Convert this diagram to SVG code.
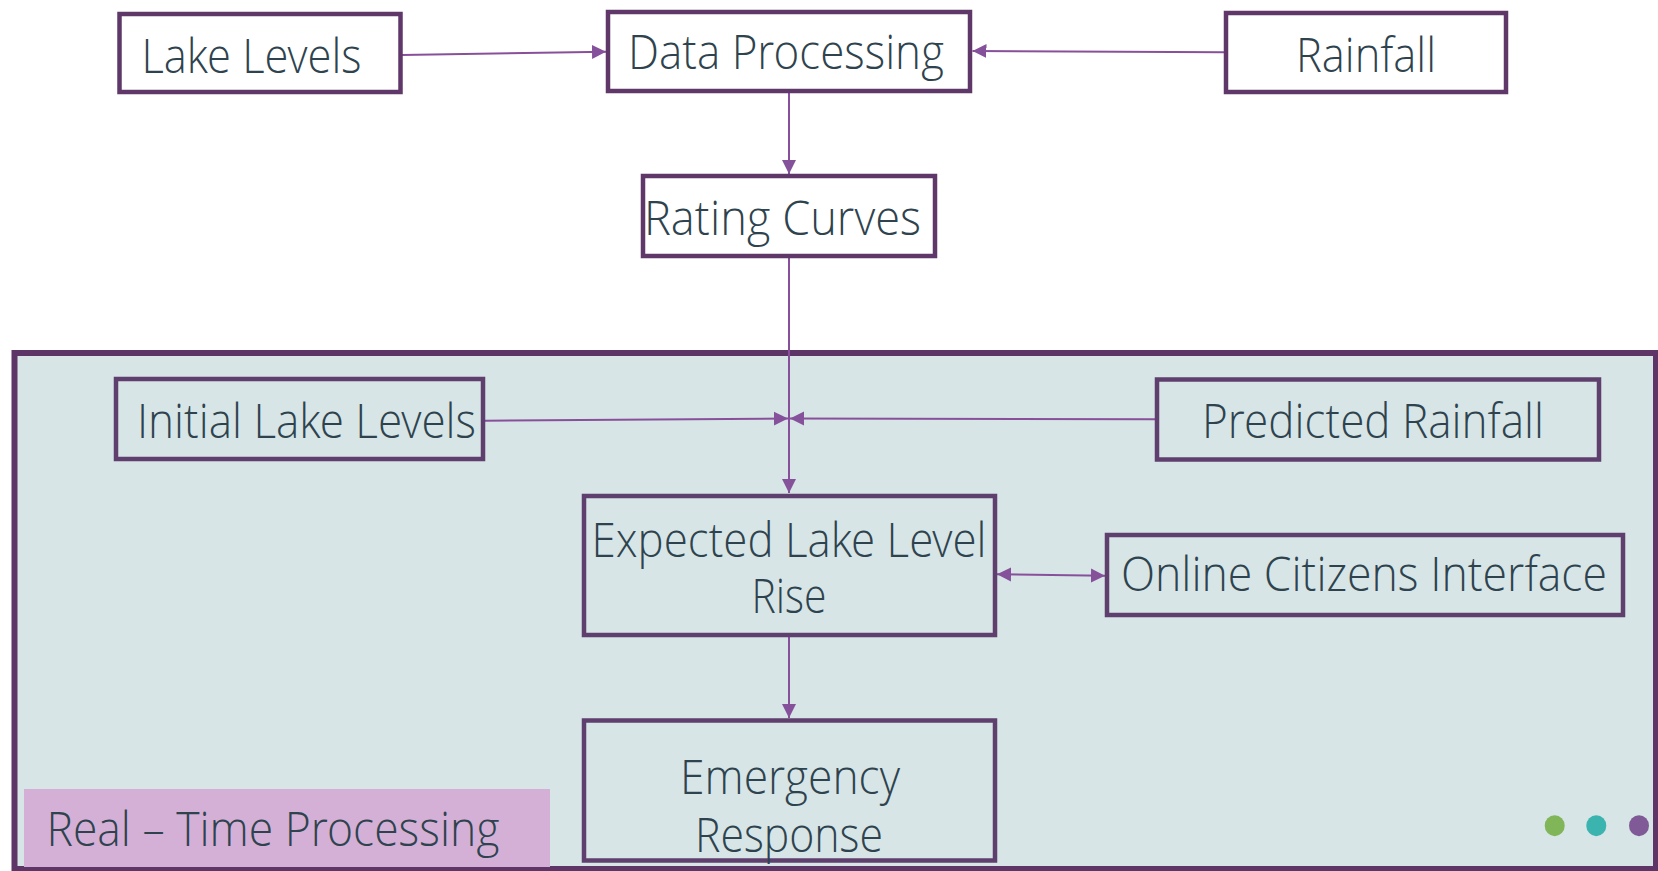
<svg xmlns="http://www.w3.org/2000/svg" width="1658" height="871" viewBox="0 0 1658 871">
  <defs>
    <marker id="arr" markerUnits="userSpaceOnUse" markerWidth="15" markerHeight="15" viewBox="0 0 15 15" refX="14" refY="7.5" orient="auto-start-reverse">
      <path d="M0,0.5 L14,7.5 L0,14.5 z" fill="#85519a"/>
    </marker>
    <style>
      .box { fill: #ffffff; stroke: #5f3869; stroke-width: 4.5; }
      .ibox { fill: none; stroke: #5f3f6e; stroke-width: 4.5; }
      .lbl { font-family: "Open Sans Light", "Open Sans", "Liberation Sans", sans-serif; font-weight: 300; font-size: 48px; fill: #2e434e; }
      .con { stroke: #88509a; stroke-width: 2; fill: none; }
    </style>
  </defs>
  <rect x="0" y="0" width="1658" height="871" fill="#ffffff"/>

  <g id="realtime-container">
    <rect x="14.5" y="353" width="1641.5" height="516" fill="#d7e5e7" stroke="#5d3567" stroke-width="6"/>
  </g>

  <g id="connectors">
    <line class="con" x1="402" y1="55" x2="606" y2="51.7" marker-end="url(#arr)"/>
    <line class="con" x1="1224" y1="52.3" x2="972.5" y2="51" marker-end="url(#arr)"/>
    <line class="con" x1="789" y1="93" x2="789" y2="174" marker-end="url(#arr)"/>
    <line class="con" x1="789" y1="258" x2="789" y2="493" marker-end="url(#arr)"/>
    <line class="con" x1="485" y1="420.7" x2="788" y2="418.5" marker-end="url(#arr)"/>
    <line class="con" x1="1155" y1="419.3" x2="790" y2="418.5" marker-end="url(#arr)"/>
    <line class="con" x1="997" y1="574.3" x2="1105" y2="575.7" marker-start="url(#arr)" marker-end="url(#arr)"/>
    <line class="con" x1="789" y1="637" x2="789" y2="718" marker-end="url(#arr)"/>
  </g>

  <g id="lake-levels">
    <rect class="box" x="119.5" y="14" width="281" height="78"/>
    <text class="lbl" x="141.5" y="73" textLength="220" lengthAdjust="spacingAndGlyphs">Lake Levels</text>
  </g>
  <g id="data-processing">
    <rect class="box" x="608" y="12" width="362" height="79"/>
    <text class="lbl" x="628" y="69" textLength="316" lengthAdjust="spacingAndGlyphs">Data Processing</text>
  </g>
  <g id="rainfall">
    <rect class="box" x="1226" y="13" width="280" height="79"/>
    <text class="lbl" x="1296" y="71.5" textLength="140" lengthAdjust="spacingAndGlyphs">Rainfall</text>
  </g>
  <g id="rating-curves">
    <rect class="box" x="643" y="176" width="292" height="80"/>
    <text class="lbl" x="644" y="235" textLength="277" lengthAdjust="spacingAndGlyphs">Rating Curves</text>
  </g>
  <g id="initial-lake-levels">
    <rect class="ibox" x="116" y="379" width="367" height="80"/>
    <text class="lbl" x="137" y="438" textLength="339" lengthAdjust="spacingAndGlyphs">Initial Lake Levels</text>
  </g>
  <g id="predicted-rainfall">
    <rect class="ibox" x="1157" y="379.5" width="442" height="80"/>
    <text class="lbl" x="1202" y="438" textLength="342" lengthAdjust="spacingAndGlyphs">Predicted Rainfall</text>
  </g>
  <g id="expected-lake-level-rise">
    <rect class="ibox" x="584" y="496" width="411" height="139"/>
    <text class="lbl" x="591.5" y="556.7" textLength="395" lengthAdjust="spacingAndGlyphs">Expected Lake Level</text>
    <text class="lbl" x="751.5" y="613" textLength="75" lengthAdjust="spacingAndGlyphs">Rise</text>
  </g>
  <g id="online-citizens-interface">
    <rect class="ibox" x="1107" y="535" width="516" height="80"/>
    <text class="lbl" x="1121" y="590.7" textLength="486" lengthAdjust="spacingAndGlyphs">Online Citizens Interface</text>
  </g>
  <g id="emergency-response">
    <rect class="ibox" x="584" y="720.5" width="411" height="140"/>
    <text class="lbl" x="680" y="793.5" textLength="220" lengthAdjust="spacingAndGlyphs">Emergency</text>
    <text class="lbl" x="695" y="851.5" textLength="188" lengthAdjust="spacingAndGlyphs">Response</text>
  </g>
  <g id="realtime-label">
    <rect x="24" y="789" width="526" height="78" fill="#d4b0d6"/>
    <text class="lbl" x="46.5" y="846" textLength="453" lengthAdjust="spacingAndGlyphs">Real – Time Processing</text>
  </g>
  <g id="dots">
    <ellipse cx="1554.7" cy="825.7" rx="10" ry="10.5" fill="#80b657"/>
    <ellipse cx="1596.3" cy="825.7" rx="10" ry="10.5" fill="#3bb3ae"/>
    <ellipse cx="1639" cy="825.7" rx="10" ry="10.5" fill="#7f5a96"/>
  </g>
</svg>
